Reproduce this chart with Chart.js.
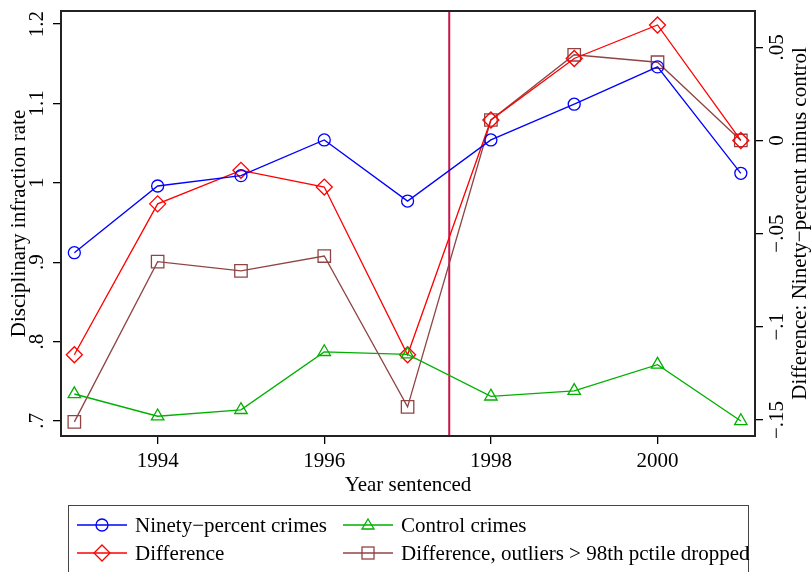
<!DOCTYPE html>
<html>
<head>
<meta charset="utf-8">
<script src="https://cdn.jsdelivr.net/npm/chart.js@4.4.1/dist/chart.umd.min.js"></script>
<style>
body { margin: 0; background: #fff; }
#wrap { position: relative; width: 811px; height: 572px; overflow: hidden; }
#chart { position: absolute; left: 0; top: 0; }
#legend {
    position: absolute; left: 68px; top: 505px; width: 679px; height: 90px;
    border: 1px solid #444; font-family: "Liberation Serif", serif; font-size: 21px; color: #000;
}
.item { position: absolute; height: 28px; display: flex; align-items: center; white-space: nowrap; }
.item svg { margin-right: 8px; }
</style>
</head>
<body>
<div id="wrap">
    <canvas id="chart" width="811" height="572"></canvas>
    <div id="legend">
        <div class="item" style="left:8px;top:5px">
            <svg width="50" height="20"><line x1="0" y1="10" x2="50" y2="10" stroke="#0000ff" stroke-width="1.3"/><circle cx="25" cy="10" r="6" fill="none" stroke="#0000ff" stroke-width="1.3"/></svg>Ninety−percent crimes
        </div>
        <div class="item" style="left:274px;top:5px">
            <svg width="50" height="20"><line x1="0" y1="10" x2="50" y2="10" stroke="#00b000" stroke-width="1.3"/><polygon points="25,4 31,14 19,14" fill="none" stroke="#00b000" stroke-width="1.3"/></svg>Control crimes
        </div>
        <div class="item" style="left:8px;top:33px">
            <svg width="50" height="20"><line x1="0" y1="10" x2="50" y2="10" stroke="#ff0000" stroke-width="1.3"/><polygon points="25,2 33,10 25,18 17,10" fill="none" stroke="#ff0000" stroke-width="1.3"/></svg>Difference
        </div>
        <div class="item" style="left:274px;top:33px">
            <svg width="50" height="20"><line x1="0" y1="10" x2="50" y2="10" stroke="#8f4444" stroke-width="1.3"/><rect x="19" y="4" width="12" height="12" fill="none" stroke="#8f4444" stroke-width="1.3"/></svg>Difference, outliers &gt; 98th pctile dropped
        </div>
    </div>
</div>
<script>
const years = [1993, 1994, 1995, 1996, 1997, 1998, 1999, 2000, 2001];
const ninetyPercent = [0.912, 0.996, 1.009, 1.054, 0.977, 1.054, 1.099, 1.146, 1.012];
const controlCrimes = [0.734, 0.706, 0.714, 0.787, 0.784, 0.731, 0.738, 0.771, 0.700];
const difference = [-0.115, -0.034, -0.016, -0.025, -0.115, 0.011, 0.044, 0.062, 0.000];
const diffTrimmed = [-0.151, -0.065, -0.070, -0.062, -0.143, 0.011, 0.046, 0.042, 0.000];

const xTicks = [1994, 1996, 1998, 2000];
const leftTicks = [0.7, 0.8, 0.9, 1.0, 1.1, 1.2];
const leftTickLabels = ['.7', '.8', '.9', '1', '1.1', '1.2'];
const rightTicks = [-0.15, -0.1, -0.05, 0, 0.05];
const rightTickLabels = ['−.15', '−.1', '−.05', '0', '.05'];
const cutoffYear = 1997.5;

const FONT = '"Liberation Serif", serif';

function points(values) {
    return years.map((yr, i) => ({ x: yr, y: values[i] }));
}

function series(label, values, color, style, radius, axis) {
    return {
        label,
        data: points(values),
        yAxisID: axis,
        borderColor: color,
        borderWidth: 1.3,
        pointStyle: style,
        pointRadius: radius,
        pointBorderColor: color,
        pointBorderWidth: 1.3,
        pointBackgroundColor: 'rgba(0,0,0,0)',
        backgroundColor: 'rgba(0,0,0,0)',
        tension: 0,
    };
}

// frame, cutoff line, rotated y labels and axis titles
const decorations = {
    id: 'decorations',
    beforeDatasetsDraw(chart) {
        const ctx = chart.ctx;
        const a = chart.chartArea;
        const x = chart.scales.x.getPixelForValue(cutoffYear);
        ctx.save();
        ctx.strokeStyle = '#c8164a';
        ctx.lineWidth = 2;
        ctx.beginPath();
        ctx.moveTo(x, a.top);
        ctx.lineTo(x, a.bottom);
        ctx.stroke();
        ctx.restore();
    },
    afterDraw(chart) {
        const ctx = chart.ctx;
        const a = chart.chartArea;
        const y = chart.scales.y;
        const y1 = chart.scales.y1;
        ctx.save();
        ctx.strokeStyle = '#222';
        ctx.lineWidth = 2;
        ctx.strokeRect(a.left, a.top, a.right - a.left, a.bottom - a.top);

        ctx.fillStyle = '#000';
        ctx.font = '21px ' + FONT;
        ctx.textAlign = 'center';
        ctx.textBaseline = 'middle';
        leftTicks.forEach((v, i) => {
            ctx.save();
            ctx.translate(37, y.getPixelForValue(v));
            ctx.rotate(-Math.PI / 2);
            ctx.fillText(leftTickLabels[i], 0, 0);
            ctx.restore();
        });
        rightTicks.forEach((v, i) => {
            ctx.save();
            ctx.translate(777, y1.getPixelForValue(v));
            ctx.rotate(-Math.PI / 2);
            ctx.fillText(rightTickLabels[i], 0, 0);
            ctx.restore();
        });

        const midY = (a.top + a.bottom) / 2;
        ctx.save();
        ctx.translate(19, midY);
        ctx.rotate(-Math.PI / 2);
        ctx.fillText('Disciplinary infraction rate', 0, 0);
        ctx.restore();
        ctx.save();
        ctx.translate(800, midY);
        ctx.rotate(-Math.PI / 2);
        ctx.fillText('Difference: Ninety−percent minus control', 0, 0);
        ctx.restore();

        ctx.fillText('Year sentenced', (a.left + a.right) / 2, 485);
        ctx.restore();
    }
};

new Chart(document.getElementById('chart'), {
    type: 'line',
    data: {
        datasets: [
            series('Ninety−percent crimes', ninetyPercent, '#0000ff', 'circle', 6, 'y'),
            series('Control crimes', controlCrimes, '#00b000', 'triangle', 7.2, 'y'),
            series('Difference', difference, '#ff0000', 'rectRot', 8, 'y1'),
            series('Difference, outliers > 98th pctile dropped', diffTrimmed, '#8f4444', 'rect', 8.8, 'y1'),
        ]
    },
    options: {
        responsive: false,
        animation: false,
        layout: { padding: { top: 11, left: 0, right: 0, bottom: 0 } },
        plugins: { legend: { display: false }, tooltip: { enabled: false } },
        scales: {
            x: {
                type: 'linear',
                min: 1992.84,
                max: 2001.17,
                afterBuildTicks: s => { s.ticks = xTicks.map(v => ({ value: v })); },
                afterFit: s => { s.height = 136; },
                grid: { drawOnChartArea: false, tickLength: 8, color: '#000', lineWidth: 1.3 },
                border: { display: false },
                ticks: {
                    color: '#000', font: { family: FONT, size: 21 }, padding: 5,
                    maxRotation: 0, callback: v => String(v)
                }
            },
            y: {
                position: 'left',
                min: 0.6811,
                max: 1.2164,
                afterBuildTicks: s => { s.ticks = leftTicks.map(v => ({ value: v })); },
                afterFit: s => { s.width = 61; },
                grid: { drawOnChartArea: false, tickLength: 8, color: '#000', lineWidth: 1.3 },
                border: { display: false },
                ticks: { display: false }
            },
            y1: {
                position: 'right',
                min: -0.1586,
                max: 0.0695,
                afterBuildTicks: s => { s.ticks = rightTicks.map(v => ({ value: v })); },
                afterFit: s => { s.width = 56; },
                grid: { drawOnChartArea: false, tickLength: 8, color: '#000', lineWidth: 1.3 },
                border: { display: false },
                ticks: { display: false }
            }
        }
    },
    plugins: [decorations]
});
</script>
</body>
</html>
